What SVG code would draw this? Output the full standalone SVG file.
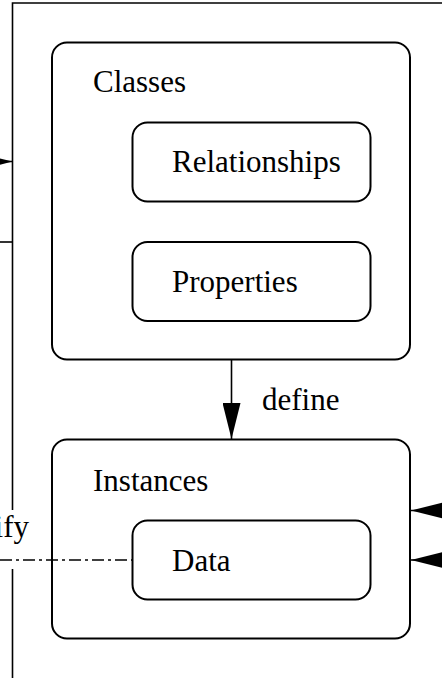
<svg xmlns="http://www.w3.org/2000/svg" width="442" height="678" viewBox="0 0 442 678">
  <style>
    .box { fill: #ffffff; stroke: #000000; stroke-width: 2; }
    .frame { fill: none; stroke: #000000; stroke-width: 1.6; }
    .lbl { font-family: "Liberation Serif", "Times New Roman", serif; font-size: 31px; fill: #000000; }
    .conn { fill: none; stroke: #000000; stroke-width: 1.6; }
    .dashdot { fill: none; stroke: #000000; stroke-width: 1.6; stroke-dasharray: 12 4 3 4; }
  </style>
  <defs>
    <marker id="arrow" markerUnits="userSpaceOnUse" markerWidth="36" markerHeight="18" refX="36" refY="9" orient="auto" viewBox="0 0 36 18">
      <path d="M0,0 L36,9 L0,18 Z" fill="#000000"/>
    </marker>
  </defs>
  <rect width="442" height="678" fill="#ffffff"/>

  <g id="frame">
    <path class="frame" d="M12.5,678 L12.5,3 L442,3"/>
  </g>

  <g id="classes">
    <rect class="box" x="52" y="42.5" width="358" height="317" rx="15" ry="15"/>
    <text class="lbl" x="93" y="92">Classes</text>
  </g>
  <g id="relationships">
    <rect class="box" x="132.5" y="122.5" width="238" height="79" rx="15" ry="15"/>
    <text class="lbl" x="172" y="172">Relationships</text>
  </g>
  <g id="properties">
    <rect class="box" x="132.5" y="242" width="238" height="79" rx="15" ry="15"/>
    <text class="lbl" x="172" y="292">Properties</text>
  </g>
  <g id="instances">
    <rect class="box" x="52" y="439.5" width="358" height="199" rx="15" ry="15"/>
    <text class="lbl" x="93" y="491">Instances</text>
  </g>
  <g id="data">
    <rect class="box" x="132.5" y="520.5" width="238" height="79" rx="15" ry="15"/>
    <text class="lbl" x="172" y="571">Data</text>
  </g>

  <g id="connectors">
    <line class="conn" x1="231.5" y1="360" x2="231.5" y2="439" marker-end="url(#arrow)"/>
    <text class="lbl" x="262" y="410">define</text>
    <line class="conn" x1="-40" y1="161.5" x2="12.5" y2="161.5" marker-end="url(#arrow)"/>
    <line class="conn" x1="0" y1="242" x2="12.5" y2="242"/>
    <line class="conn" x1="480" y1="510.5" x2="411" y2="510.5" marker-end="url(#arrow)"/>
    <line class="conn" x1="480" y1="560" x2="411" y2="560" marker-end="url(#arrow)"/>
    <rect x="0" y="510" width="32" height="59" fill="#ffffff"/>
    <text class="lbl" x="29" y="537" text-anchor="end">ify</text>
    <line class="dashdot" x1="0" y1="560" x2="132.5" y2="560"/>
  </g>
</svg>
